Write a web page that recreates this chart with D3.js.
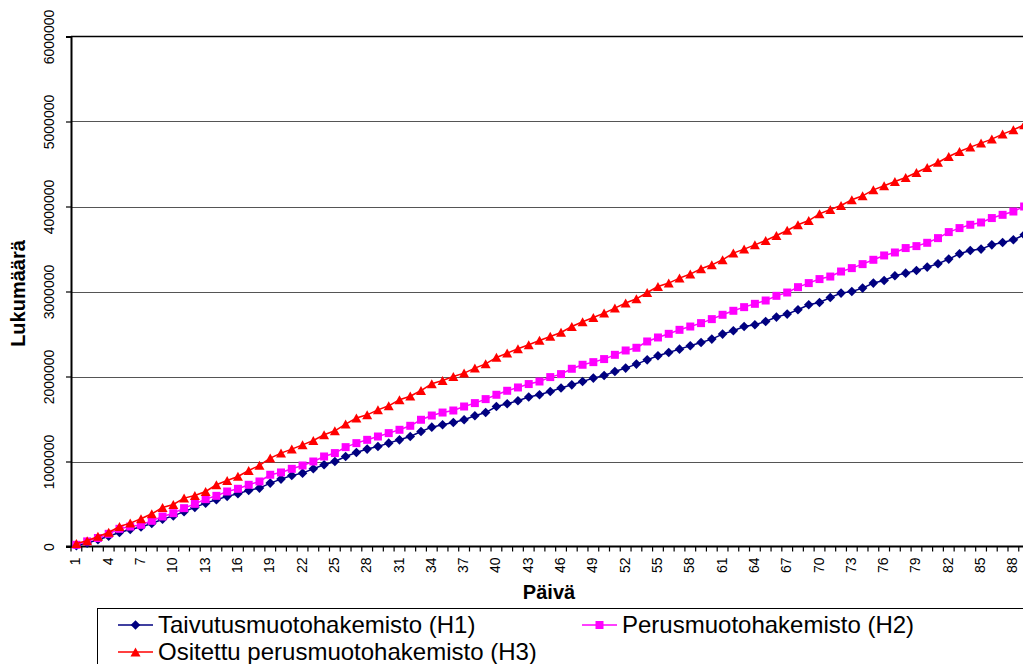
<!DOCTYPE html>
<html>
<head>
<meta charset="utf-8">
<script src="https://cdn.jsdelivr.net/npm/d3@7"></script>
<style>
  body { margin: 0; background: #fff; }
  svg { display: block; font-family: "Liberation Sans", Arial, sans-serif; }
</style>
</head>
<body>
<svg id="chart" width="1023" height="664"></svg>
<script>
const days = d3.range(1, 90);
const yTicks = [0, 1000000, 2000000, 3000000, 4000000, 5000000, 6000000];

// Taivutusmuotohakemisto (H1)
const h1 = [10000, 40000, 80000, 120000, 165000, 200000, 230000, 270000, 320000, 360000,
    410000, 460000, 510000, 550000, 590000, 620000, 660000, 687000, 746000, 793000,
    835000, 863000, 914000, 961000, 1000000, 1059000, 1106000, 1146000, 1176000, 1216000,
    1255000, 1294000, 1353000, 1404000, 1432000, 1459000, 1491000, 1538000, 1576000, 1647000,
    1679000, 1714000, 1758000, 1785000, 1824000, 1864000, 1902000, 1941000, 1981000, 2012000,
    2059000, 2099000, 2146000, 2196000, 2244000, 2283000, 2322000, 2361000, 2400000, 2440000,
    2499000, 2538000, 2588000, 2608000, 2647000, 2699000, 2734000, 2785000, 2844000, 2871000,
    2930000, 2981000, 3000000, 3040000, 3099000, 3129000, 3185000, 3216000, 3247000, 3287000,
    3326000, 3381000, 3444000, 3482000, 3499000, 3549000, 3576000, 3608000, 3667000];

// Perusmuotohakemisto (H2)
const h2 = [20000, 60000, 100000, 149000, 208000, 235000, 255000, 302000, 353000, 392000,
    451000, 502000, 557000, 596000, 647000, 679000, 726000, 765000, 844000, 871000,
    914000, 953000, 1000000, 1059000, 1099000, 1169000, 1216000, 1255000, 1294000, 1334000,
    1373000, 1420000, 1491000, 1541000, 1576000, 1600000, 1647000, 1687000, 1734000, 1785000,
    1832000, 1871000, 1911000, 1941000, 1993000, 2028000, 2091000, 2138000, 2169000, 2205000,
    2255000, 2306000, 2338000, 2412000, 2459000, 2502000, 2549000, 2588000, 2628000, 2675000,
    2726000, 2773000, 2816000, 2855000, 2894000, 2949000, 2988000, 3051000, 3099000, 3146000,
    3176000, 3235000, 3275000, 3322000, 3373000, 3424000, 3459000, 3511000, 3534000, 3573000,
    3628000, 3699000, 3746000, 3785000, 3812000, 3864000, 3902000, 3941000, 4000000];

// Ositettu perusmuotohakemisto (H3)
const h3 = [35000, 67000, 118000, 165000, 235000, 275000, 326000, 385000, 459000, 494000,
    569000, 600000, 647000, 726000, 776000, 824000, 894000, 955000, 1040000, 1099000,
    1146000, 1196000, 1247000, 1314000, 1361000, 1440000, 1511000, 1549000, 1608000, 1655000,
    1726000, 1768000, 1835000, 1914000, 1953000, 2000000, 2040000, 2099000, 2149000, 2224000,
    2275000, 2326000, 2373000, 2424000, 2471000, 2518000, 2588000, 2644000, 2694000, 2746000,
    2805000, 2864000, 2914000, 2988000, 3059000, 3099000, 3158000, 3205000, 3267000, 3314000,
    3373000, 3452000, 3499000, 3549000, 3600000, 3659000, 3718000, 3785000, 3835000, 3914000,
    3965000, 4012000, 4079000, 4126000, 4196000, 4244000, 4294000, 4341000, 4400000, 4459000,
    4518000, 4588000, 4647000, 4699000, 4746000, 4793000, 4852000, 4902000, 4961000];

const seriesNames = ['Taivutusmuotohakemisto (H1)', 'Perusmuotohakemisto (H2)', 'Ositettu perusmuotohakemisto (H3)'];
const seriesColors = ['#000080', '#ff00ff', '#ff0000'];
const seriesValues = [h1, h2, h3];
const seriesMarkers = ['diamond', 'square', 'triangle'];

const plotLeft = 71;
const plotTop = 36.5;
const plotBottom = 546.5;
const bandW = 10.77;

const svg = d3.select('#chart');

const x = d3.scaleBand().domain(days).range([plotLeft, plotLeft + days.length * bandW]).padding(0);
const y = d3.scaleLinear().domain([0, 6000000]).range([plotBottom, plotTop]);

function markerPath(type) {
    if (type === 'diamond') {
        return 'M0,-4.8L4.8,0L0,4.8L-4.8,0Z';
    }
    if (type === 'square') {
        return 'M-4,-4H4V4H-4Z';
    }
    return 'M0,-4.6L5,4.4L-5,4.4Z';
}

// gridlines
svg.append('g')
    .selectAll('line')
    .data(yTicks.slice(1, -1))
    .enter()
    .append('line')
    .attr('x1', plotLeft)
    .attr('x2', 1023)
    .attr('y1', d => Math.round(y(d)) + 0.5)
    .attr('y2', d => Math.round(y(d)) + 0.5)
    .attr('stroke', '#555')
    .attr('stroke-width', 1);

// plot area top border
svg.append('line')
    .attr('x1', plotLeft).attr('x2', 1023)
    .attr('y1', y(6000000)).attr('y2', y(6000000))
    .attr('stroke', '#000').attr('stroke-width', 1.5);

// y axis
const yAxis = svg.append('g')
    .attr('transform', `translate(${plotLeft},0)`)
    .call(d3.axisLeft(y).tickValues(yTicks).tickSize(5).tickFormat(d3.format('d')));
yAxis.select('.domain').attr('stroke', '#000').attr('stroke-width', 2);
yAxis.selectAll('.tick line').attr('stroke', '#000').attr('stroke-width', 1.2);
yAxis.selectAll('.tick text')
    .attr('x', 0).attr('y', 0).attr('dy', 0)
    .attr('transform', 'translate(-17,0) rotate(-90)')
    .attr('text-anchor', 'middle')
    .attr('font-size', 14)
    .attr('fill', '#000');

// x axis labels
const xAxis = svg.append('g')
    .attr('transform', `translate(0,${plotBottom})`)
    .call(d3.axisBottom(x).tickValues(days.filter(d => (d - 1) % 3 === 0)).tickSize(0));
xAxis.select('.domain').remove();
xAxis.selectAll('.tick text')
    .attr('x', 0).attr('y', 0).attr('dy', '0.36em')
    .attr('transform', 'translate(-1,11) rotate(-90)')
    .attr('text-anchor', 'end')
    .attr('font-size', 14)
    .attr('fill', '#000');

// x tick marks at category boundaries
svg.append('g')
    .selectAll('line')
    .data(days)
    .enter()
    .append('line')
    .attr('x1', d => x(d))
    .attr('x2', d => x(d))
    .attr('y1', plotBottom)
    .attr('y2', plotBottom + 5)
    .attr('stroke', '#000')
    .attr('stroke-width', 1.2);

svg.append('line')
    .attr('x1', plotLeft - 5).attr('x2', 1023)
    .attr('y1', plotBottom).attr('y2', plotBottom)
    .attr('stroke', '#000').attr('stroke-width', 2);

// series
const line = d3.line()
    .x((d, i) => x(days[i]) + x.bandwidth() / 2)
    .y(d => y(d));

seriesValues.forEach((vals, s) => {
    const g = svg.append('g');
    g.append('path')
        .datum(vals)
        .attr('d', line)
        .attr('fill', 'none')
        .attr('stroke', seriesColors[s])
        .attr('stroke-width', 1.5);
    g.selectAll('path.m')
        .data(vals)
        .enter()
        .append('path')
        .attr('class', 'm')
        .attr('d', markerPath(seriesMarkers[s]))
        .attr('transform', (d, i) => `translate(${x(days[i]) + x.bandwidth() / 2},${y(d)})`)
        .attr('fill', seriesColors[s]);
});

// axis titles
svg.append('text')
    .attr('transform', `translate(25,${(plotTop + plotBottom) / 2 + 2}) rotate(-90)`)
    .attr('text-anchor', 'middle')
    .attr('font-size', 20)
    .attr('font-weight', 'bold')
    .text('Lukumäärä');

svg.append('text')
    .attr('x', 549)
    .attr('y', 599)
    .attr('text-anchor', 'middle')
    .attr('font-size', 20)
    .attr('font-weight', 'bold')
    .text('Päivä');

// legend
const legend = svg.append('g');
legend.append('rect')
    .attr('x', 97.5).attr('y', 608.5)
    .attr('width', 1000).attr('height', 100)
    .attr('fill', '#fff').attr('stroke', '#000').attr('stroke-width', 1);

const legendPos = [[118, 625], [582, 625], [118, 652]];
seriesNames.forEach((name, s) => {
    const [lx, ly] = legendPos[s];
    legend.append('line')
        .attr('x1', lx).attr('x2', lx + 35)
        .attr('y1', ly).attr('y2', ly)
        .attr('stroke', seriesColors[s]).attr('stroke-width', 1.5);
    legend.append('path')
        .attr('d', markerPath(seriesMarkers[s]))
        .attr('transform', `translate(${lx + 17.5},${ly})`)
        .attr('fill', seriesColors[s]);
    legend.append('text')
        .attr('x', lx + 40)
        .attr('y', ly)
        .attr('dy', '0.35em')
        .attr('font-size', 24)
        .attr('fill', '#000')
        .text(name);
});
</script>
</body>
</html>
